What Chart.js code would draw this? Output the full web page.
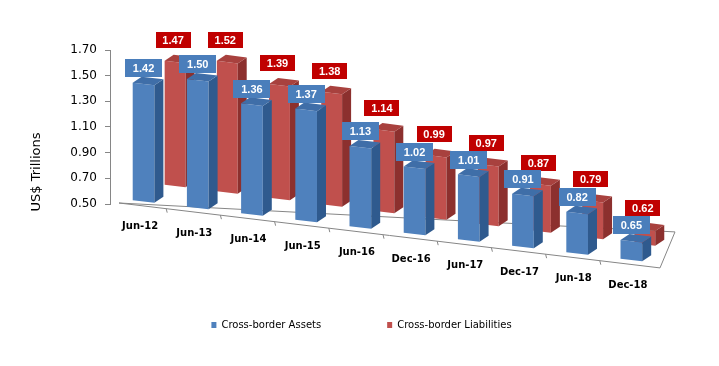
<!DOCTYPE html>
<html><head><meta charset="utf-8">
<script src="https://cdn.jsdelivr.net/npm/chart.js@4.4.1/dist/chart.umd.min.js"></script>
<style>html,body{margin:0;padding:0;background:#fff;}</style>
</head><body>
<canvas id="c" width="719" height="366"></canvas>
<script>
// ---- data ----
const categories = ['Jun-12','Jun-13','Jun-14','Jun-15','Jun-16','Dec-16','Jun-17','Dec-17','Jun-18','Dec-18'];
const assets = [1.42,1.50,1.36,1.37,1.13,1.02,1.01,0.91,0.82,0.65];
const liabilities = [1.47,1.52,1.39,1.38,1.14,0.99,0.97,0.87,0.79,0.62];
const yTicks = [0.50,0.70,0.90,1.10,1.30,1.50,1.70];
const seriesNames = ['Cross-border Assets','Cross-border Liabilities'];
const axisTitle = 'US$ Trillions';

// ---- pseudo-3D styling ----
const S = 0.12;                       // floor slant
const ROW = [ {a:1, e:20, f:-3.6}, {a:0.963, e:30, f:-22.4} ];  // front row / back row placement
const DEPTH = {x:9, y:-6};
const FACE = [ {side:'#2F5A8E', top:'#3F6EA8'}, {side:'#8C302E', top:'#A8413E'} ];
const LABEL = [ {bg:'#4A7EBB', h:18, padX:8, dx:0, dy:-7}, {bg:'#C00000', h:16, padX:7, dx:-2, dy:-14} ];
const GRAY = '#868686';

function T(chart, idx, x, y) {
  const r = ROW[idx], x0 = chart.chartArea.left;
  return [r.a * x + r.e, y + S * (x - x0) + r.f];
}

const pseudo3d = {
  id: 'pseudo3d',
  beforeDatasetsDraw(chart) {
    const {ctx, chartArea: ca} = chart;
    ctx.save();
    ctx.strokeStyle = GRAY; ctx.lineWidth = 1;
    const fl = [ca.left + 9, ca.bottom - 1];
    const fr = [ca.right + 8, fl[1] + S * (ca.right - ca.left - 1)];
    const br = [fr[0] + 15, fr[1] - 36];
    ctx.beginPath();
    ctx.moveTo(fl[0], fl[1]); ctx.lineTo(fr[0], fr[1]); ctx.lineTo(br[0], br[1]); ctx.lineTo(fl[0], fl[1]);
    ctx.stroke();
    const W = (ca.right - ca.left) / categories.length;
    for (let k = 1; k < categories.length; k++) {
      const bx = ca.left + W * k + 2;
      const by = fl[1] + S * (bx - fl[0]);
      ctx.beginPath(); ctx.moveTo(bx, by); ctx.lineTo(bx + 1, by + 4); ctx.stroke();
    }
    // axis title
    ctx.translate(37, 172); ctx.rotate(-Math.PI / 2);
    ctx.font = '13px "DejaVu Sans", Verdana, sans-serif';
    ctx.fillStyle = '#000';
    ctx.textAlign = 'center'; ctx.textBaseline = 'middle';
    ctx.fillText(axisTitle, 0, 0);
    ctx.restore();
  },
  beforeDatasetDraw(chart, args) {
    const r = ROW[args.index], x0 = chart.chartArea.left;
    chart.ctx.save();
    chart.ctx.transform(r.a, S, 0, 1, r.e, r.f - S * x0);
  },
  afterDatasetDraw(chart, args) {
    const ctx = chart.ctx;
    ctx.restore();
    const idx = args.index;
    const st = FACE[idx];
    args.meta.data.forEach(el => {
      const p = el.getProps(['x','y','base','width'], true);
      const L = p.x - p.width / 2, R = p.x + p.width / 2;
      const a = T(chart, idx, R, p.y), b = T(chart, idx, R, p.base), c = T(chart, idx, L, p.y);
      ctx.fillStyle = st.side;
      ctx.beginPath();
      ctx.moveTo(a[0], a[1]); ctx.lineTo(b[0], b[1]);
      ctx.lineTo(b[0] + DEPTH.x, b[1] + DEPTH.y); ctx.lineTo(a[0] + DEPTH.x, a[1] + DEPTH.y);
      ctx.closePath(); ctx.fill();
      ctx.fillStyle = st.top;
      ctx.beginPath();
      ctx.moveTo(c[0], c[1]); ctx.lineTo(a[0], a[1]);
      ctx.lineTo(a[0] + DEPTH.x, a[1] + DEPTH.y); ctx.lineTo(c[0] + DEPTH.x, c[1] + DEPTH.y);
      ctx.closePath(); ctx.fill();
    });
  },
  afterDatasetsDraw(chart) {
    const {ctx, chartArea: ca} = chart;
    const xs = chart.scales.x;
    ctx.save();
    // category labels along the slanted floor
    ctx.fillStyle = '#000';
    ctx.font = 'bold 10px "DejaVu Sans", Verdana, sans-serif';
    ctx.textAlign = 'center'; ctx.textBaseline = 'middle';
    categories.forEach((c, i) => {
      const x = xs.getPixelForValue(i) + 3;
      ctx.fillText(c, x, ca.bottom + S * (x - ca.left) + 19);
    });
    // value labels
    ctx.font = 'bold 11px "Liberation Sans", Arial, sans-serif';
    [1, 0].forEach(idx => {
      const st = LABEL[idx];
      const meta = chart.getDatasetMeta(idx);
      meta.data.forEach((el, j) => {
        const p = el.getProps(['x','y'], true);
        const t = T(chart, idx, p.x, p.y);
        const txt = chart.data.datasets[idx].data[j].toFixed(2);
        const w = Math.round(ctx.measureText(txt).width + st.padX * 2);
        const cx = t[0] + st.dx, bottom = Math.round(t[1] + st.dy);
        ctx.fillStyle = st.bg;
        ctx.fillRect(Math.round(cx - w / 2), bottom - st.h, w, st.h);
        ctx.fillStyle = '#fff';
        ctx.fillText(txt, cx, bottom - st.h / 2 + 0.5);
      });
    });
    ctx.restore();
  }
};

new Chart(document.getElementById('c'), {
  type: 'bar',
  data: {
    labels: categories,
    datasets: [
      { label: seriesNames[0], data: assets, backgroundColor: '#4F81BD', borderWidth: 0, order: 1, clip: false, base: yTicks[0] },
      { label: seriesNames[1], data: liabilities, backgroundColor: '#C0504D', borderWidth: 0, order: 2, clip: false, base: yTicks[0] }
    ]
  },
  options: {
    responsive: false,
    animation: false,
    events: [],
    devicePixelRatio: 1,
    layout: { padding: { top: 50, left: 4, right: 0, bottom: 26 } },
    datasets: { bar: { barPercentage: 0.8, categoryPercentage: 1.0 } },
    scales: {
      x: {
        type: 'category',
        grid: { display: false }, border: { display: false },
        ticks: { display: false },
        afterFit: s => { s.height = 50; }
      },
      y: {
        min: 0.5, max: 1.7,
        afterBuildTicks: s => { s.ticks = yTicks.map(v => ({ value: v })); },
        afterFit: s => { s.width = 106; },
        grid: { display: true, drawOnChartArea: false, drawTicks: true, tickLength: 5, color: GRAY },
        border: { display: true, color: GRAY },
        ticks: { padding: 8, color: '#000', font: { family: '"DejaVu Sans", Verdana, sans-serif', size: 12 },
                 callback: v => Number(v).toFixed(2) }
      },
      y2: {
        position: 'right', display: true,
        grid: { display: false }, border: { display: false }, ticks: { display: false },
        afterFit: s => { s.width = 67; }
      }
    },
    plugins: {
      tooltip: { enabled: false },
      legend: {
        position: 'bottom',
        labels: {
          boxWidth: 5, boxHeight: 6, padding: 66, color: '#000',
          font: { family: '"DejaVu Sans", Verdana, sans-serif', size: 10 },
          sort: (a, b) => a.datasetIndex - b.datasetIndex
        }
      }
    }
  },
  plugins: [pseudo3d]
});
</script>
</body></html>
